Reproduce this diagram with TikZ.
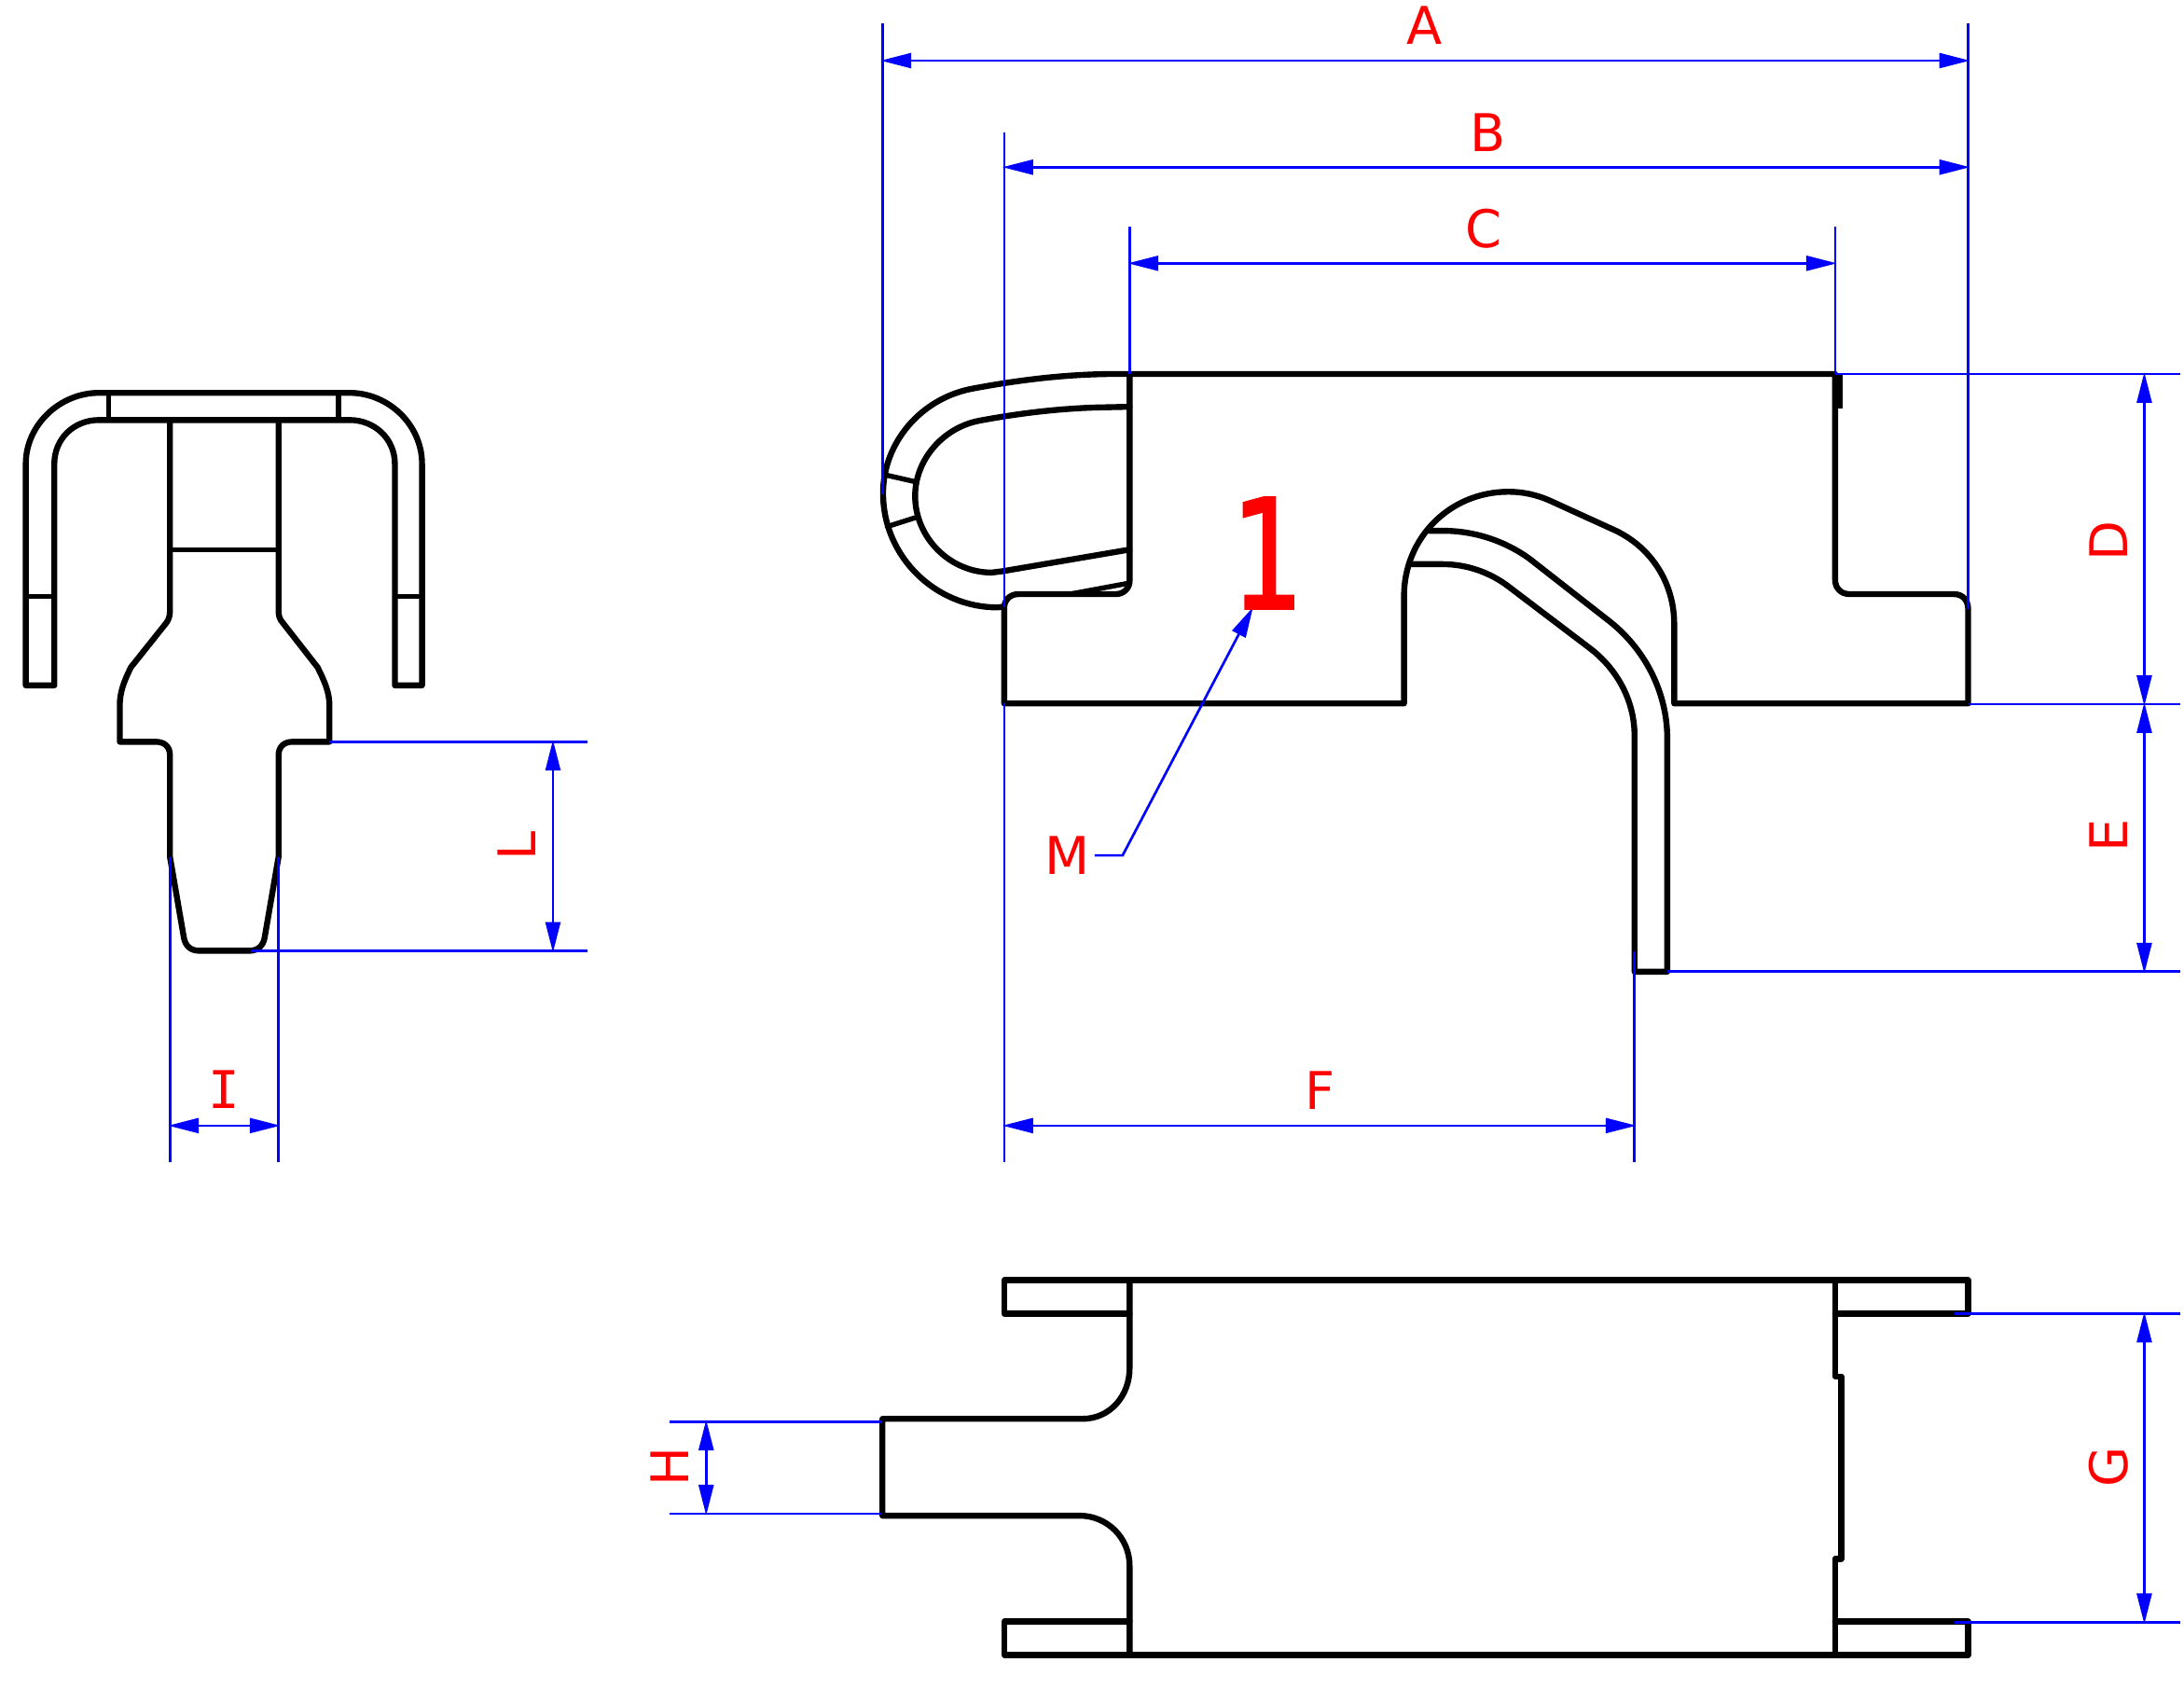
\documentclass[tikz,border=0pt]{standalone}
\usepackage{fontspec}
\setmainfont{DejaVu Sans}
\newfontfamily\monofam{DejaVu Sans Mono}
\newfontfamily\onefam[FakeBold=1.6,FakeStretch=0.74]{DejaVu Sans}
\usetikzlibrary{arrows.meta}
\definecolor{dimblue}{RGB}{0,0,255}
\tikzset{
  part/.style={black,line width=3.2pt,line join=round,line cap=round},
  thin part/.style={black,line width=2.7pt,line join=round,line cap=round},
  ext/.style={dimblue,line width=1.35pt},
  dim/.style={dimblue,line width=1.35pt,shorten <=-1pt,shorten >=-1pt,{Triangle[length=16.5pt,width=8pt]}-{Triangle[length=16.5pt,width=8pt]}},
  lead/.style={dimblue,line width=1.35pt,shorten >=-1pt,-{Triangle[length=16.5pt,width=8pt]}},
  lab/.style={red,font=\fontsize{28}{28}\selectfont,inner sep=0pt},
  big/.style={red,font=\fontsize{82}{82}\selectfont\onefam,inner sep=0pt}
}
\begin{document}
\begin{tikzpicture}[x=0.75pt,y=-0.75pt]
\useasboundingbox (0,0) rectangle (1568,1213.1);
\fill[white] (0,0) rectangle (1568,1213.1);
% ---------- left view
\draw[part] (18.5,492) -- (18.5,333) .. controls (18.5,305) and (43,282) .. (71,282) -- (251,282) .. controls (279,282) and (303,305) .. (303,333) -- (303,492) -- (283.5,492) -- (283.5,333) .. controls (283.5,315) and (269,301.5) .. (251,301.5) -- (71,301.5) .. controls (53,301.5) and (39,315) .. (39,333) -- (39,492) -- cycle;
\draw[thin part] (78,282) -- (78,301.5) (243,282) -- (243,301.5) (18.5,428) -- (39,428) (283.5,428) -- (303,428) (122,394.5) -- (200,394.5);
\draw[part] (122,301.5) -- (122,439) .. controls (122,442) and (121,445) .. (119.5,447) -- (94,479) .. controls (89,489) and (86,497) .. (86,506) -- (86,532.5) -- (112,532.5) .. controls (118,532.5) and (122,536) .. (122,542) -- (122,615) -- (132,673) .. controls (133,679) and (137,682.5) .. (143,682.5) -- (179,682.5) .. controls (185,682.5) and (189,679) .. (190,673) -- (200,615) -- (200,542) .. controls (200,536) and (204,532.5) .. (210,532.5) -- (236.5,532.5) -- (236.5,506) .. controls (236.5,497) and (233,489) .. (228,479) -- (203,447) .. controls (201,445) and (200,442) .. (200,439) -- (200,301.5);
% ---------- top right view
\draw[part] (811,268.5) -- (1317.5,268.5) -- (1317.5,416) .. controls (1317.5,422) and (1321.5,426.5) .. (1328,426.5) -- (1403,426.5) .. controls (1409,426.5) and (1413,431) .. (1413,437) -- (1413,505) -- (1202,505) -- (1202,448) .. controls (1202,418) and (1185,392) .. (1158,380) -- (1113,359.5) .. controls (1103,355) and (1093,353) .. (1083,353) .. controls (1041,353) and (1008,386) .. (1008,428) -- (1008,505) -- (721,505) -- (721,436) .. controls (721,431) and (725,426.5) .. (731,426.5) -- (801,426.5) .. controls (807,426.5) and (811,422) .. (811,417) -- cycle;
\fill[black] (1316,267.5) rectangle (1323,293);
\draw[part] (1026,381) -- (1036,381) .. controls (1058,381) and (1080,388) .. (1098,401) -- (1153,444) .. controls (1181,465) and (1197,497) .. (1197,530) -- (1197,697.5) -- (1173.5,697.5) -- (1173.5,528) .. controls (1173.5,503) and (1161,480) .. (1141,465) -- (1083,421) .. controls (1070,411) and (1053,405) .. (1036,405) -- (1013,405);
\draw[part] (811,268.5) -- (795,268.5) .. controls (762,269) and (730,273) .. (698,279) .. controls (661,286) and (634,318) .. (634,354) .. controls (634,400) and (672,436) .. (716,436) -- (721,435.5);
\draw[part] (811,292) -- (787,292.5) .. controls (757,293.5) and (730,297) .. (703,302) .. controls (677,307) and (657,330) .. (657,356) .. controls (657,386) and (682,411) .. (712,411) -- (720,410) -- (811,394.5);
\draw[thin part] (636,341) -- (658,346) (637,378) -- (659,371) (768,426.5) -- (811,418.5);
% ---------- bottom view
\draw[part] (811,943) -- (721,943) -- (721,919) -- (1413,919) -- (1413,943) -- (1317.5,943);
\draw[part] (811,1164) -- (721,1164) -- (721,1188) -- (1413,1188) -- (1413,1164) -- (1317.5,1164);
\draw[part] (811,919) -- (811,982) .. controls (811,1002) and (797,1018.5) .. (777,1018.5) -- (633.5,1018.5) -- (633.5,1088) -- (775,1088) .. controls (795,1088) and (811,1104) .. (811,1124) -- (811,1188);
\draw[part] (1317.5,919) -- (1317.5,988) -- (1322,988) -- (1322,1119) -- (1317.5,1119) -- (1317.5,1188);
% ---------- extension lines
\draw[ext] (633.5,17) -- (633.5,355) (1413,17) -- (1413,437);
\draw[ext] (721,95) -- (721,436) (721,505) -- (721,834);
\draw[ext] (811,163) -- (811,268.5) (1317.5,163) -- (1317.5,268.5);
\draw[ext] (1317.5,268.5) -- (1565,268.5) (1413,505.5) -- (1565,505.5) (1197,697.5) -- (1565,697.5);
\draw[ext] (1173.5,683) -- (1173.5,834);
\draw[ext] (236.5,532.5) -- (422,532.5) (180,682.5) -- (422,682.5);
\draw[ext] (122,615) -- (122,834) (200,615) -- (200,834);
\draw[ext] (1403,943) -- (1565,943) (1403,1164.5) -- (1565,1164.5);
\draw[ext] (481,1020.5) -- (633.5,1020.5) (481,1086.5) -- (633.5,1086.5);
% ---------- dimension arrows
\coordinate (a1) at (633.5,43.5); \coordinate (a2) at (1413,43.5);
\coordinate (b1) at (721,120); \coordinate (b2) at (1413,120);
\coordinate (c1) at (811,189); \coordinate (c2) at (1317.5,189);
\coordinate (d1) at (1539.5,268.5); \coordinate (d2) at (1539.5,505.5);
\coordinate (e2) at (1539.5,697.5);
\coordinate (f1) at (721,808); \coordinate (f2) at (1173.5,808);
\coordinate (g1) at (1539.5,943); \coordinate (g2) at (1539.5,1164.5);
\coordinate (h1) at (507,1020.5); \coordinate (h2) at (507,1086.5);
\coordinate (i1) at (122,808); \coordinate (i2) at (200,808);
\coordinate (l1) at (397,532.5); \coordinate (l2) at (397,682.5);
\coordinate (m1) at (786,614); \coordinate (m2) at (806,614); \coordinate (m3) at (899,437);
\draw[dim] (a1) -- (a2);
\draw[dim] (b1) -- (b2);
\draw[dim] (c1) -- (c2);
\draw[dim] (d1) -- (d2);
\draw[dim] (d2) -- (e2);
\draw[dim] (f1) -- (f2);
\draw[dim] (g1) -- (g2);
\draw[dim] (h1) -- (h2);
\draw[dim] (i1) -- (i2);
\draw[dim] (l1) -- (l2);
\draw[lead] (m1) -- (m2) -- (m3);
% ---------- labels
\node[lab] (la) at (1023,18) {A};
\node[lab] (lb) at (1068,95) {B};
\node[lab] (lc) at (1065,164) {C};
\node[lab,rotate=90] (ld) at (1514,388) {D};
\node[lab,rotate=90] (le) at (1514,600) {E};
\node[lab] (lf) at (948,783) {F};
\node[lab,rotate=90] (lg) at (1514,1053) {G};
\node[lab,rotate=90] (lh) at (481,1053) {H};
\node[lab,font=\fontsize{28}{28}\selectfont\monofam] (li) at (161,782) {I};
\node[lab,rotate=90] (ll) at (371,607) {L};
\node[lab] (lm) at (766,614) {M};
\node[big] (one) at (910,397) {1};
\end{tikzpicture}
\end{document}
